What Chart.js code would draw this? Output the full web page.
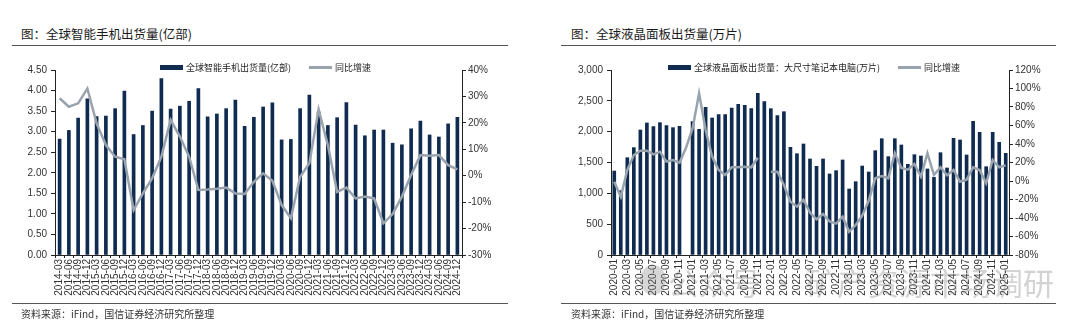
<!DOCTYPE html>
<html lang="zh-CN">
<head>
  <meta charset="UTF-8" />
  <title>全球智能手机与液晶面板出货量</title>
  <script src="https://cdn.jsdelivr.net/npm/chart.js"></script>
  <style>
    * { box-sizing: border-box; margin: 0; padding: 0; }

    body {
      width: 1080px;
      height: 324px;
      background: #fff;
      position: relative;
      overflow: hidden;
      font-family: 'Noto Sans CJK SC', 'Liberation Sans', sans-serif;
      color: #222;
    }

    .panel { position: absolute; top: 0; width: 540px; height: 324px; }

    .titulo {
      position: absolute;
      top: 25px;
      font-size: 12.5px;
      line-height: 18px;
      color: #1a1a1a;
      white-space: nowrap;
    }

    .regla { position: absolute; height: 1px; background: #555; }

    .fuente {
      position: absolute;
      top: 307px;
      font-size: 10px;
      line-height: 14px;
      color: #333;
      white-space: nowrap;
    }

    .leyenda {
      position: absolute;
      top: 61px;
      display: flex;
      align-items: center;
      font-size: 9px;
      line-height: 13px;
      color: #222;
      white-space: nowrap;
      z-index: 2;
    }

    .leyenda .barra { width: 23px; height: 5px; background: #0f2b50; margin-right: 3px; }
    .leyenda .linea { width: 23px; height: 2.5px; background: #99a3ae; margin: 0 3px 0 18px; }

    .lienzo { position: absolute; top: 60px; left: 0; width: 540px; height: 245px; }

    .marca {
      position: absolute;
      left: 128px;
      top: 262px;
      font-size: 31px;
      line-height: 40px;
      color: rgba(120, 120, 120, 0.33);
      white-space: nowrap;
      pointer-events: none;
      z-index: 3;
    }
    .marca-logo {
      position: absolute;
      left: 100px;
      top: 265px;
      width: 26px;
      height: 30px;
      border-radius: 50%;
      background: rgba(120, 120, 120, 0.3);
      z-index: 3;
    }
  </style>
</head>
<body>
  <div class="panel" style="left:0">
    <div class="titulo" style="left:21px">图：全球智能手机出货量(亿部)</div>
    <div class="regla" style="left:12px; width:496px; top:45px"></div>
    <div class="leyenda" style="left:160px">
      <span class="barra"></span>全球智能手机出货量(亿部)<span class="linea"></span>同比增速
    </div>
    <div class="lienzo"><canvas id="graficoMovil"></canvas></div>
    <div class="regla" style="left:12px; width:496px; top:303px"></div>
    <div class="fuente" style="left:21px">资料来源：iFind，国信证券经济研究所整理</div>
  </div>

  <div class="panel" style="left:540px">
    <div class="titulo" style="left:31px">图：全球液晶面板出货量(万片)</div>
    <div class="regla" style="left:21px; width:495px; top:45px"></div>
    <div class="leyenda" style="left:128px">
      <span class="barra"></span>全球液晶面板出货量：大尺寸笔记本电脑(万片)<span class="linea"></span>同比增速
    </div>
    <div class="lienzo"><canvas id="graficoPanel"></canvas></div>
    <div class="regla" style="left:21px; width:495px; top:303px"></div>
    <div class="fuente" style="left:31px">资料来源：iFind，国信证券经济研究所整理</div>
    <div class="marca-logo"></div>
    <div class="marca">公众号 · 矿产资源市场调研</div>
  </div>

  <script>
    // 全球智能手机出货量（季度，亿部）与同比增速（%）
    const trimestres = [
      '2014-03', '2014-06', '2014-09', '2014-12', '2015-03', '2015-06', '2015-09', '2015-12',
      '2016-03', '2016-06', '2016-09', '2016-12', '2017-03', '2017-06', '2017-09', '2017-12',
      '2018-03', '2018-06', '2018-09', '2018-12', '2019-03', '2019-06', '2019-09', '2019-12',
      '2020-03', '2020-06', '2020-09', '2020-12', '2021-03', '2021-06', '2021-09', '2021-12',
      '2022-03', '2022-06', '2022-09', '2022-12', '2023-03', '2023-06', '2023-09', '2023-12',
      '2024-03', '2024-06', '2024-09', '2024-12'
    ];
    const envioMovil = [
      2.82, 3.03, 3.33, 3.80, 3.37, 3.38, 3.56, 3.99, 2.93, 3.15, 3.50, 4.29,
      3.55, 3.62, 3.74, 4.05, 3.36, 3.43, 3.56, 3.77, 3.13, 3.35, 3.60, 3.70,
      2.80, 2.81, 3.56, 3.89, 3.48, 3.15, 3.34, 3.71, 3.16, 2.90, 3.04, 3.04,
      2.72, 2.68, 3.07, 3.26, 2.92, 2.87, 3.19, 3.35
    ];
    const crecMovil = [
      29.3, 26.1, 27.4, 33.0, 19.8, 11.6, 7.2, 6.2, -13.0, -6.7, -1.0, 7.2,
      21.1, 14.8, 7.2, -5.4, -5.2, -4.9, -4.5, -6.7, -6.9, -2.3, 0.9, -1.9,
      -11.1, -16.1, -0.4, 4.7, 25.1, 11.5, -6.1, -4.5, -8.6, -7.9, -8.6, -18.0,
      -14.5, -7.9, 0.3, 7.8, 7.6, 7.8, 4.0, 2.4
    ];

    // 全球液晶面板出货量：大尺寸笔记本电脑（月度，万片）与同比增速（%）
    const meses = [
      '2020-01', '2020-02', '2020-03', '2020-04', '2020-05', '2020-06', '2020-07', '2020-08', '2020-09', '2020-10', '2020-11', '2020-12',
      '2021-01', '2021-02', '2021-03', '2021-04', '2021-05', '2021-06', '2021-07', '2021-08', '2021-09', '2021-10', '2021-11', '2021-12',
      '2022-01', '2022-02', '2022-03', '2022-04', '2022-05', '2022-06', '2022-07', '2022-08', '2022-09', '2022-10', '2022-11', '2022-12',
      '2023-01', '2023-02', '2023-03', '2023-04', '2023-05', '2023-06', '2023-07', '2023-08', '2023-09', '2023-10', '2023-11', '2023-12',
      '2024-01', '2024-02', '2024-03', '2024-04', '2024-05', '2024-06', '2024-07', '2024-08', '2024-09', '2024-10', '2024-11', '2024-12',
      '2025-01'
    ];
    const envioPanel = [
      1362, 1043, 1578, 1741, 2027, 2141, 2081, 2146, 2097, 2065, 2086, null,
      2162, 2038, 2395, 2222, 2276, 2276, 2384, 2443, 2427, 2373, 2622, 2486,
      2373, 2259, 2324, 1746, 1643, 1800, 1557, 1438, 1557, 1314, 1368, 1541,
      1070, 1189, 1443, 1346, 1692, 1886, 1595, 1886, 1784, 1470, 1627, 1605,
      1395, 1259, 1659, 1411, 1892, 1865, 1622, 2168, 1989, 1432, 1989, 1827,
      1649
    ];
    const crecPanel = [
      -0.7, -17.0, 11.9, 28.1, 32.8, 32.8, 28.8, 31.7, 20.9, 22.7, 19.8, 36.0,
      56.9, 94.8, 55.1, 26.3, 11.9, 6.5, 14.8, 14.8, 15.5, 14.8, 25.2, null,
      10.1, 10.1, -4.3, -22.3, -27.7, -20.5, -34.2, -41.4, -35.7, -43.6, -46.1, -38.6,
      -54.8, -47.6, -37.5, -21.3, 2.9, 5.4, 2.9, 30.3, 14.1, 12.3, 18.4, 4.7,
      29.9, 6.5, 14.8, 6.1, 11.9, -0.7, 1.4, 14.8, 11.9, -2.5, 22.7, 14.8,
      16.9
    ];

    const COLOR_BARRA = '#0f2b50';
    const COLOR_LINEA = '#99a3ae';
    const COLOR_EJE = '#222';

    Chart.defaults.font.family = "'Liberation Sans', Arial, sans-serif";
    Chart.defaults.font.size = 10;
    Chart.defaults.color = '#333';

    function ejeY(posicion, ancho, min, max, paso, formato) {
      return {
        position: posicion,
        min: min,
        max: max,
        afterFit: s => { s.width = ancho; },
        border: { display: true, color: COLOR_EJE, width: 1 },
        grid: { drawOnChartArea: false, drawTicks: true, tickLength: 4, color: COLOR_EJE },
        ticks: { stepSize: paso, padding: posicion === 'left' ? 4 : 2, callback: formato }
      };
    }

    function crearGrafico(id, etiquetas, barras, linea, ejes, cadaDos) {
      const ctx = document.getElementById(id).getContext('2d');
      return new Chart(ctx, {
        data: {
          labels: etiquetas,
          datasets: [
            {
              type: 'line', data: linea, yAxisID: 'y1', order: 0,
              borderColor: COLOR_LINEA, borderWidth: 2.5, pointRadius: 0,
              tension: 0, spanGaps: false
            },
            {
              type: 'bar', data: barras, yAxisID: 'y', order: 1,
              backgroundColor: COLOR_BARRA, barThickness: 3
            }
          ]
        },
        options: {
          responsive: true,
          maintainAspectRatio: false,
          animation: false,
          layout: { padding: { top: 10, left: 0, right: 0, bottom: 0 } },
          plugins: { legend: { display: false }, tooltip: { enabled: false } },
          scales: {
            x: {
              afterFit: s => { s.height = 50; },
              border: { display: true, color: COLOR_EJE, width: 1 },
              grid: {
                offset: true,
                drawOnChartArea: false,
                drawTicks: true,
                tickLength: 3,
                color: c => (!cadaDos || c.index % 2 === 0) ? COLOR_EJE : 'rgba(0,0,0,0)'
              },
              ticks: {
                autoSkip: false,
                minRotation: 90,
                maxRotation: 90,
                padding: 1,
                font: { size: 10 },
                callback: (v, i) => (!cadaDos || i % 2 === 0) ? etiquetas[i] : ''
              }
            },
            y: ejes.izq,
            y1: ejes.der
          }
        }
      });
    }

    crearGrafico('graficoMovil', trimestres, envioMovil, crecMovil, {
      izq: ejeY('left', 55, 0, 4.5, 0.5, v => Number(v).toFixed(2)),
      der: ejeY('right', 78, -30, 40, 10, v => v + '%')
    }, false);

    crearGrafico('graficoPanel', meses, envioPanel, crecPanel, {
      izq: ejeY('left', 71, 0, 3000, 500, v => Number(v).toLocaleString('en-US')),
      der: ejeY('right', 71, -80, 120, 20, v => v + '%')
    }, true);
  </script>
</body>
</html>
